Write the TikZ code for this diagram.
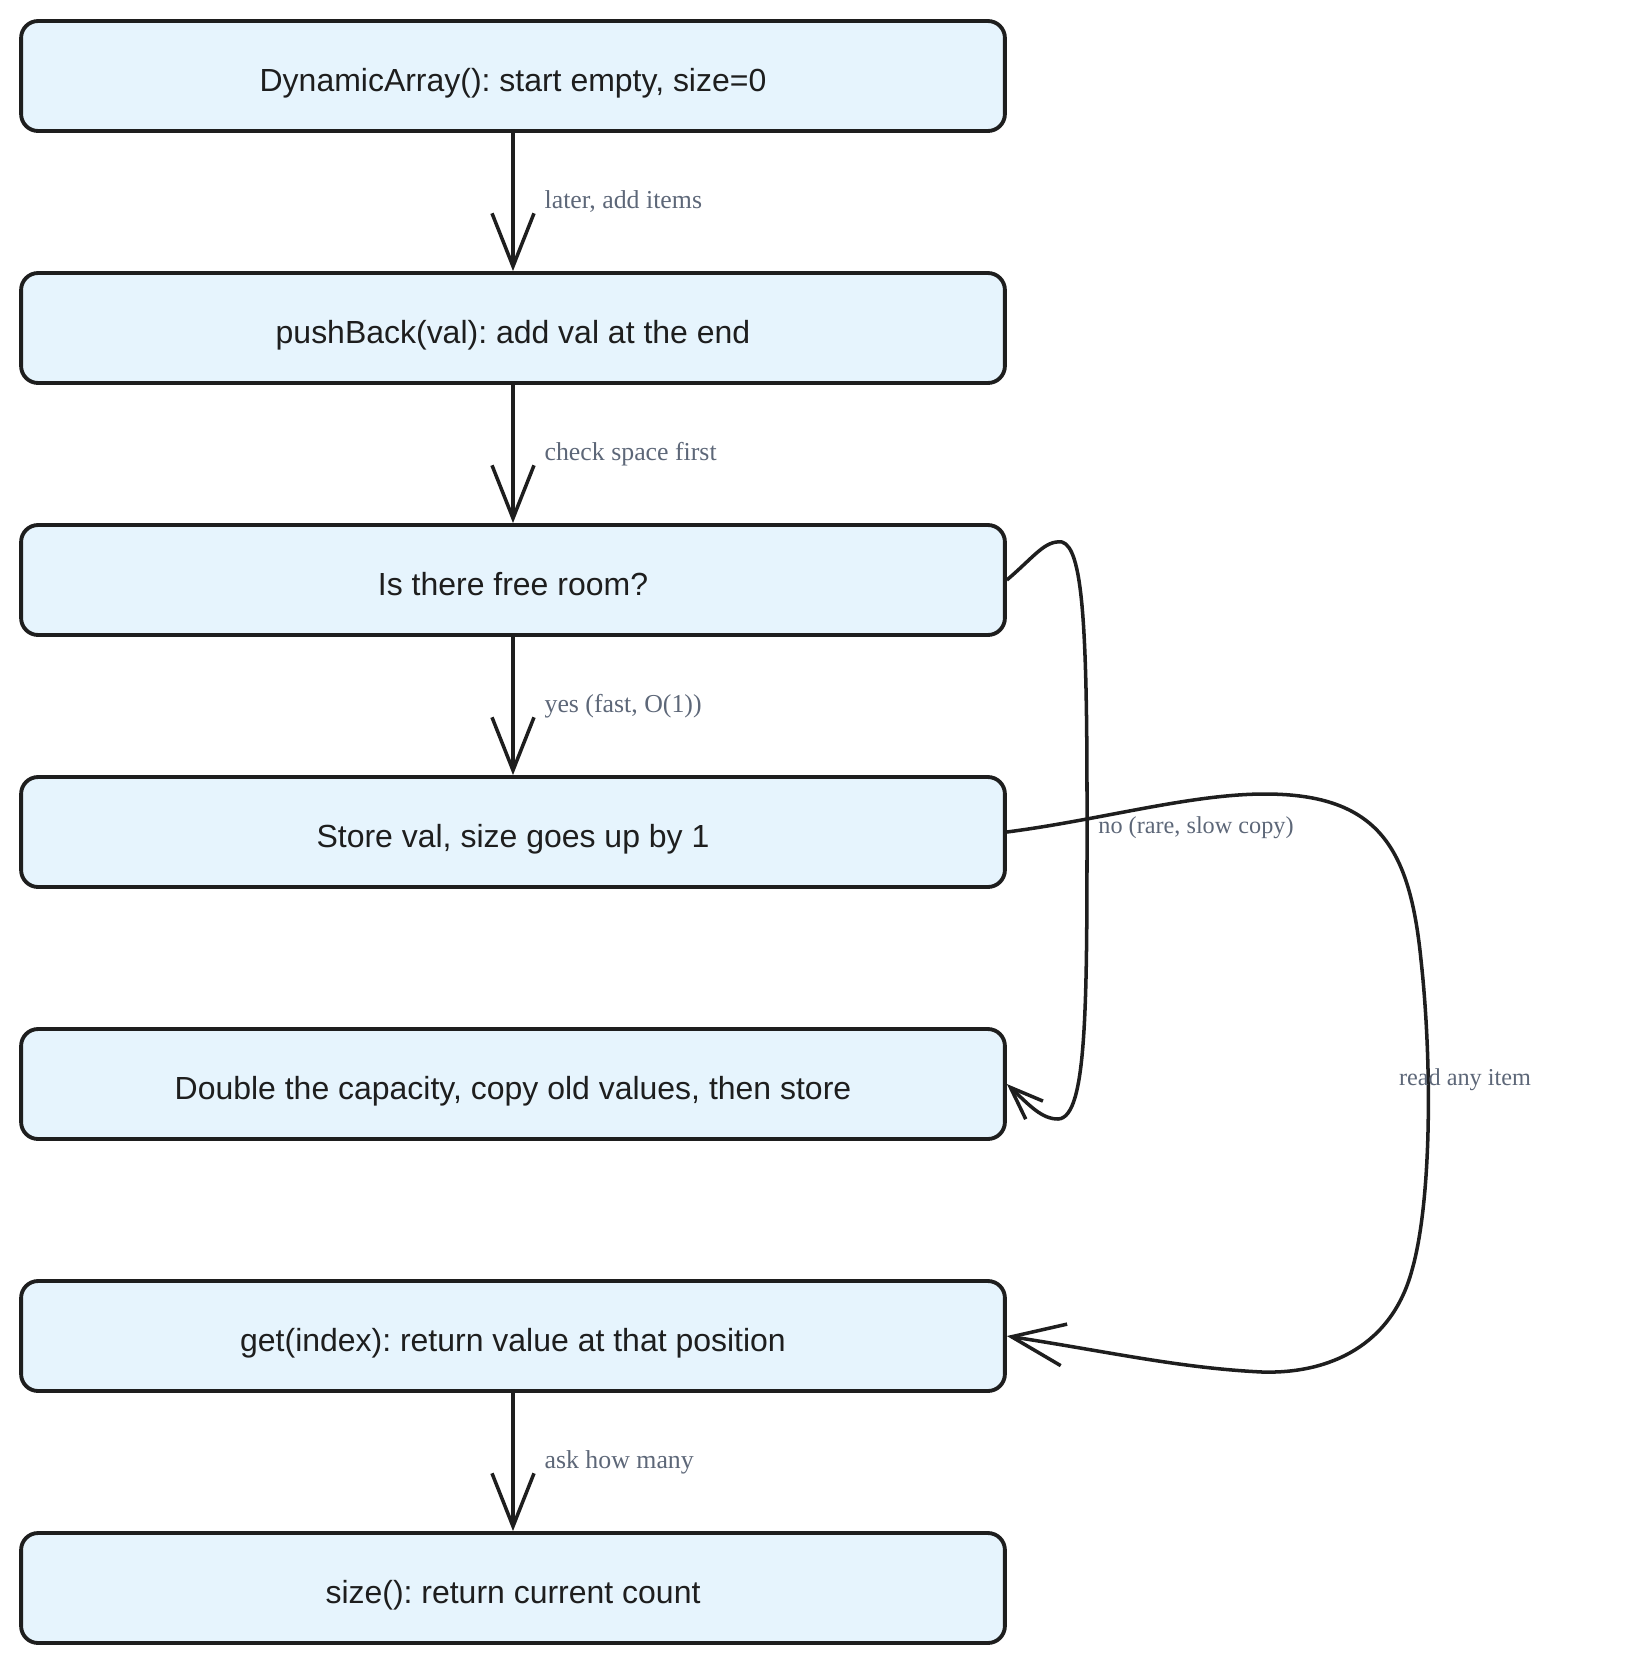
\documentclass[tikz,border=0pt]{standalone}
\usepackage{fontspec}
\setmainfont{Liberation Serif}
\setsansfont{Liberation Sans}
\usetikzlibrary{arrows.meta}
\definecolor{boxfill}{HTML}{E6F4FD}
\definecolor{boxline}{HTML}{1E1E1E}
\definecolor{lblgray}{HTML}{5D6778}
\frenchspacing

\begin{document}
\begin{tikzpicture}[x=0.02cm,y=-0.02cm,
        stepbox/.style={draw=boxline,fill=boxfill,line width=2.2pt,rounded corners=0.34cm,
            minimum width=19.68cm,minimum height=2.2cm,text height=0.75cm,text depth=0.14cm,
            text=boxline,font=\sffamily\fontsize{18.2}{22}\selectfont},
        conn/.style={draw=boxline,line width=2pt,-{Straight Barb[length=1.06cm,width=0.84cm]}},
        lbl/.style={text=lblgray,font=\fontsize{14.7}{17}\selectfont},
        sidelbl/.style={text=lblgray,font=\fontsize{13.8}{17}\selectfont}]
        \useasboundingbox (0,0) rectangle (1642,1664);
        % boxes
        \node[stepbox] (init) at (513,76) {DynamicArray(): start empty, size=0};
        \node[stepbox] (push) at (513,328) {pushBack(val): add val at the end};
        \node[stepbox] (room) at (513,580) {Is there free room?};
        \node[stepbox] (store) at (513,832) {Store val, size goes up by 1};
        \node[stepbox] (grow) at (513,1084) {Double the capacity, copy old values, then store};
        \node[stepbox] (getidx) at (513,1336) {get(index): return value at that position};
        \node[stepbox] (count) at (513,1588) {size(): return current count};
        % straight steps
        \draw[conn] (init) -- node[lbl,right=0.48cm] (lblA) {later, add items} (push);
        \draw[conn] (push) -- node[lbl,right=0.48cm] (lblB) {check space first} (room);
        \draw[conn] (room) -- node[lbl,right=0.48cm] (lblC) {yes (fast, O(1))} (store);
        \draw[conn] (getidx) -- node[lbl,right=0.48cm] (lblF) {ask how many} (count);
        % curved ones
        \draw[conn,-{Straight Barb[length=0.66cm,width=0.5cm]}] (room.east)
            .. controls (1035,556) and (1045,540) .. (1062,542)
            .. controls (1082,548) and (1087,620) .. (1087,800)
            .. controls (1087,1000) and (1088,1118) .. (1058,1119)
            .. controls (1042,1119) and (1030,1106) .. (grow.east);
        \node[sidelbl] (lblD) at (1196,828) {no (rare, slow copy)};
        \draw[conn] (store.east) .. controls (1100,820) and (1190,794) .. (1265,794)
            .. controls (1380,794) and (1410,850) .. (1421,960)
            .. controls (1432,1060) and (1432,1200) .. (1412,1270)
            .. controls (1392,1345) and (1330,1374) .. (1262,1372)
            .. controls (1180,1368) and (1110,1352) .. (getidx.east);
        \node[sidelbl] (lblE) at (1465,1080) {read any item};
\end{tikzpicture}
\end{document}
